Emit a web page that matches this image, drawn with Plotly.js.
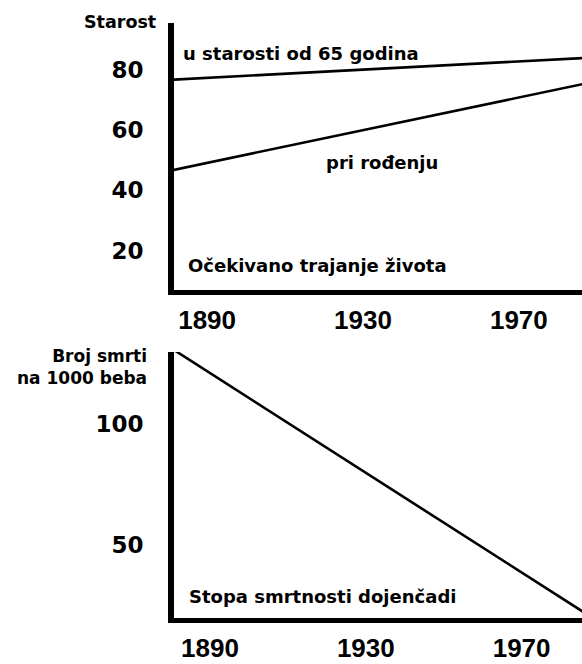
<!DOCTYPE html>
<html>
<head>
<meta charset="utf-8">
<script src="https://cdn.plot.ly/plotly-3.0.1.min.js"></script>
<style>
  html, body { margin: 0; padding: 0; background: #ffffff; overflow: hidden; }
  #chart { width: 582px; height: 664px; }
</style>
</head>
<body>
<div id="chart"></div>
<script>
// Life expectancy (top panel)
const lifeYears = [1880, 1990];
const lifeAt65 = [76.7, 84.2];     // "u starosti od 65 godina"
const lifeAtBirth = [46.4, 76.3];  // "pri rođenju"

// Infant mortality (bottom panel)
const infantYears = [1880, 1990];
const infantDeaths = [131.0, 18.2]; // deaths per 1000 babies

// Tick labels
const xTickYears = [1890, 1930, 1970];
const topYTicks = [20, 40, 60, 80];
const bottomYTicks = [50, 100];

const black = '#000000';
const lineStyle = { color: black, width: 2.6 };

const traces = [
  { x: lifeYears, y: lifeAt65, xaxis: 'x', yaxis: 'y', mode: 'lines', line: lineStyle, hoverinfo: 'skip' },
  { x: lifeYears, y: lifeAtBirth, xaxis: 'x', yaxis: 'y', mode: 'lines', line: lineStyle, hoverinfo: 'skip' },
  { x: infantYears, y: infantDeaths, xaxis: 'x2', yaxis: 'y2', mode: 'lines', line: lineStyle, hoverinfo: 'skip' }
];

const yTickFont = { family: 'DejaVu Sans', size: 23, color: black, weight: 'bold' };
const xTickFont = { family: 'Liberation Sans', size: 26, color: black, weight: 'bold' };
const annFont = { family: 'DejaVu Sans', size: 18, color: black, weight: 'bold' };
const titleFont = { family: 'DejaVu Sans', size: 17, color: black, weight: 'bold' };

const xBase = {
  showline: true, linecolor: black, linewidth: 5, mirror: false,
  showgrid: false, zeroline: false, ticks: '', tickvals: xTickYears,
  tickfont: xTickFont, ticklabelstandoff: 3, fixedrange: true
};
const yBase = {
  showline: true, linecolor: black, linewidth: 6, mirror: false,
  showgrid: false, zeroline: false, ticks: '',
  tickfont: yTickFont, ticklabelstandoff: 20, fixedrange: true
};

const layout = {
  width: 582, height: 664,
  margin: { l: 174, r: 0, t: 23, b: 46, pad: 0 },
  paper_bgcolor: '#ffffff', plot_bgcolor: '#ffffff',
  showlegend: false,
  xaxis: Object.assign({}, xBase, { domain: [0, 1], range: [1881.5, 1986.2], anchor: 'y' }),
  yaxis: Object.assign({}, yBase, { domain: [0.5513, 1], range: [6.86, 95.62], anchor: 'x', tickvals: topYTicks }),
  xaxis2: Object.assign({}, xBase, { domain: [0, 1], range: [1880.76, 1985.5], anchor: 'y2' }),
  yaxis2: Object.assign({}, yBase, { domain: [0, 0.4471], range: [20, 129.4], anchor: 'x2', tickvals: bottomYTicks }),
  annotations: [
    { text: 'Starost', xref: 'paper', yref: 'paper', x: 0, y: 1.0015, xanchor: 'right', yanchor: 'middle',
      xshift: -16, showarrow: false, font: { family: 'DejaVu Sans', size: 17.5, color: black, weight: 'bold' } },
    { text: 'Broj smrti<br>na 1000 beba', xref: 'paper', yref: 'paper', x: 0, y: 0.4218, xanchor: 'right', yanchor: 'middle',
      xshift: -25, align: 'right', showarrow: false, font: titleFont },
    { text: 'u starosti od 65 godina', xref: 'x', yref: 'y', x: 1883.2, y: 85.6, xanchor: 'left', yanchor: 'middle',
      showarrow: false, font: annFont },
    { text: 'pri rođenju', xref: 'x', yref: 'y', x: 1920.0, y: 49.4, xanchor: 'left', yanchor: 'middle',
      showarrow: false, font: annFont },
    { text: 'Očekivano trajanje života', xref: 'x', yref: 'y', x: 1884.6, y: 15.0, xanchor: 'left', yanchor: 'middle',
      showarrow: false, font: annFont },
    { text: 'Stopa smrtnosti dojenčadi', xref: 'x2', yref: 'y2', x: 1884.0, y: 29.0, xanchor: 'left', yanchor: 'middle',
      showarrow: false, font: annFont }
  ]
};

Plotly.newPlot('chart', traces, layout, { displayModeBar: false, staticPlot: true });
</script>
</body>
</html>
